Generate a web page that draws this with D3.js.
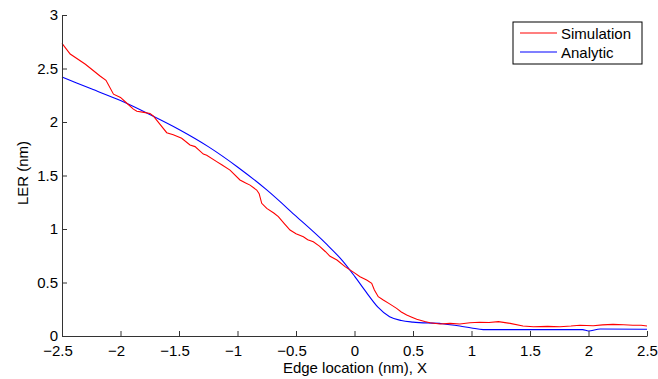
<!DOCTYPE html>
<html><head><meta charset="utf-8">
<script src="https://cdn.jsdelivr.net/npm/d3@7"></script>
<style>body{margin:0;background:#fff}svg text{font-family:"Liberation Sans",Arial,sans-serif}</style>
</head><body>
<svg id="c" width="658" height="379"></svg>
<script>
const xTicks = [-2.5,-2,-1.5,-1,-0.5,0,0.5,1,1.5,2,2.5];
const yTicks = [0,0.5,1,1.5,2,2.5,3];
const seriesNames = ["Simulation","Analytic"];
const simX = [-2.5,-2.43,-2.3,-2.175,-2.124,-2.06,-2.0,-1.95,-1.89,-1.86,-1.8,-1.748,-1.72,-1.605,-1.549,-1.477,-1.406,-1.363,-1.292,-1.263,-1.178,-1.135,-1.064,-0.979,-0.93,-0.893,-0.836,-0.815,-0.793,-0.75,-0.69,-0.651,-0.6,-0.551,-0.5,-0.437,-0.4,-0.352,-0.3,-0.25,-0.209,-0.15,-0.081,0.0,0.047,0.104,0.147,0.17,0.203,0.246,0.3,0.36,0.4,0.446,0.49,0.532,0.6,0.645,0.73,0.816,0.9,0.987,1.07,1.15,1.23,1.33,1.44,1.53,1.65,1.756,1.85,1.927,2.04,2.12,2.21,2.3,2.38,2.45,2.5];
const simY = [2.735,2.635,2.54,2.43,2.39,2.26,2.23,2.18,2.12,2.1,2.09,2.08,2.056,1.9,1.88,1.848,1.785,1.77,1.70,1.69,1.63,1.6,1.55,1.458,1.43,1.41,1.364,1.33,1.24,1.193,1.15,1.115,1.05,0.99,0.955,0.928,0.9,0.88,0.84,0.79,0.745,0.71,0.648,0.59,0.554,0.523,0.492,0.43,0.367,0.336,0.3,0.258,0.225,0.196,0.175,0.156,0.135,0.124,0.112,0.118,0.112,0.124,0.128,0.126,0.134,0.118,0.093,0.087,0.09,0.087,0.093,0.1,0.096,0.104,0.109,0.105,0.1,0.1,0.093];
const anaX = [-2.5,-2.25,-2.0,-1.75,-1.5,-1.25,-1.0,-0.75,-0.5,-0.25,-0.1,0.0,0.1,0.2,0.3,0.4,0.5,0.75,0.9,1.0,1.1,1.5,1.95,2.0,2.1,2.5];
const anaY = [2.42,2.31,2.2,2.07,1.93,1.77,1.58,1.365,1.12,0.87,0.7,0.56,0.41,0.27,0.18,0.145,0.13,0.115,0.093,0.075,0.06,0.06,0.06,0.047,0.065,0.063];

const svg = d3.select("#c");
const x = d3.scaleLinear().domain([-2.5,2.5]).range([62,647]);
const y = d3.scaleLinear().domain([0,3]).range([336,15]);
const axisColor = "#333";
const fs = "15px";

const line = d3.line().x(d=>x(d[0])).y(d=>y(d[1]));
const sim = simX.map((v,i)=>[v,simY[i]]);
const ana = anaX.map((v,i)=>[v,anaY[i]]);
svg.append("path").attr("d", d3.line().curve(d3.curveMonotoneX).x(d=>x(d[0])).y(d=>y(d[1]))(ana)).attr("fill","none").attr("stroke","#0000ff").attr("stroke-width",1.1);
svg.append("path").attr("d", line(sim)).attr("fill","none").attr("stroke","#ff0000").attr("stroke-width",1.1);

const xa = svg.append("g").attr("transform","translate(0,336)")
  .call(d3.axisBottom(x).tickValues(xTicks).tickSizeInner(-5).tickSizeOuter(0).tickPadding(9).tickFormat(d=>d3.format("")(d).replace("-","\u2212")));
xa.selectAll(".tick text").attr("dx", d => d < 0 ? "-4.5" : null);
const ya = svg.append("g").attr("transform","translate(62,0)")
  .call(d3.axisLeft(y).tickValues(yTicks).tickSizeInner(-5).tickSizeOuter(0).tickPadding(4).tickFormat(d=>String(d)));
[xa,ya].forEach(g=>{
  g.selectAll("path").attr("stroke",axisColor).attr("stroke-width",1);
  g.selectAll("line").attr("stroke",axisColor);
  g.selectAll("text").attr("fill","#000").style("font-size",fs).style("font-family","'Liberation Sans',Arial,sans-serif");
});

svg.append("text").attr("x",355).attr("y",373).attr("text-anchor","middle").style("font-size",fs).text("Edge location (nm), X");
svg.append("text").attr("transform","translate(28,173) rotate(-90)").attr("text-anchor","middle").style("font-size",fs).text("LER (nm)");

const lg = svg.append("g");
lg.append("rect").attr("x",513).attr("y",22).attr("width",129).attr("height",42).attr("fill","#fff").attr("stroke","#000").attr("stroke-width",1);
const colors = ["#ff0000","#0000ff"];
seriesNames.forEach((n,i)=>{
  const yy = 33 + i*19;
  lg.append("line").attr("x1",520).attr("x2",557).attr("y1",yy).attr("y2",yy).attr("stroke",colors[i]).attr("stroke-width",1.1);
  lg.append("text").attr("x",561).attr("y",yy+5.5).style("font-size",fs).text(n);
});
</script>
</body></html>
